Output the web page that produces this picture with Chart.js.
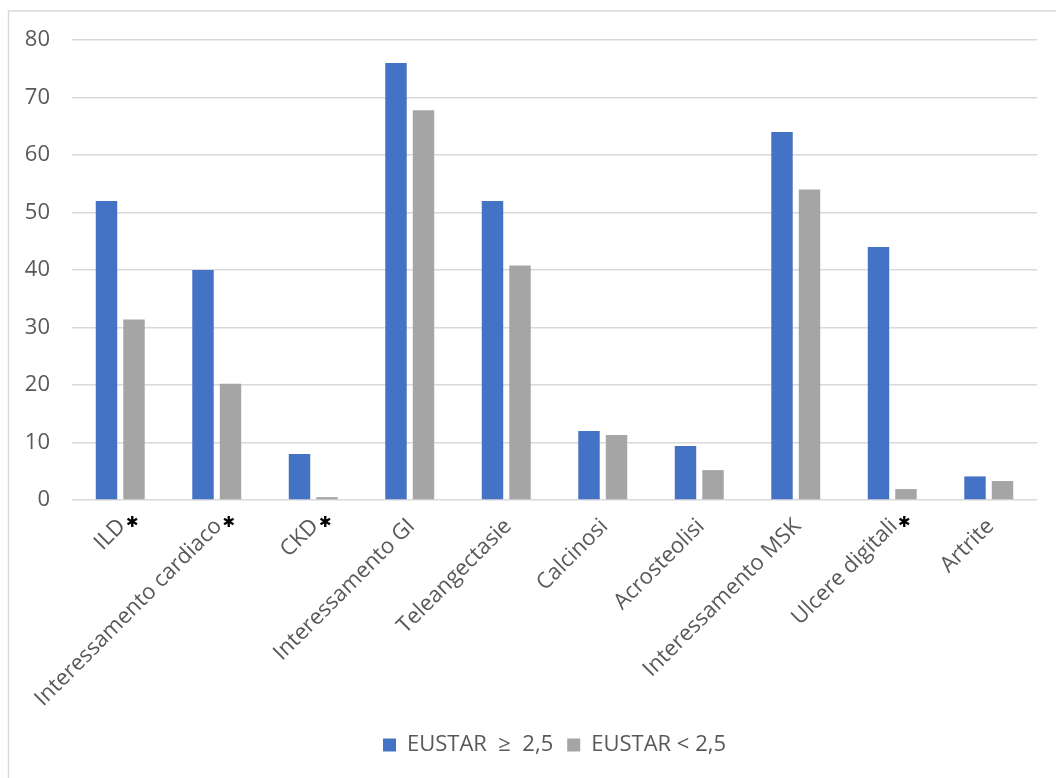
<!DOCTYPE html>
<html>
<head>
<meta charset="utf-8">
<script src="https://cdn.jsdelivr.net/npm/chart.js@4.4.1/dist/chart.umd.min.js"></script>
<style>
  html, body { margin: 0; padding: 0; background: #ffffff; }
  #wrap { width: 1056px; height: 778px; position: relative; }
</style>
</head>
<body>
<div id="wrap"><canvas id="c" width="1056" height="778"></canvas></div>
<script>
// Categories (clinical features)
const categories = [
  'ILD', 'Interessamento cardiaco', 'CKD', 'Interessamento GI', 'Teleangectasie',
  'Calcinosi', 'Acrosteolisi', 'Interessamento MSK', 'Ulcere digitali', 'Artrite'
];
// Categories marked with a significance asterisk
const significant = [true, true, true, false, false, false, false, false, true, false];

// Series values (%)
const seriesHigh = [52, 40, 8, 76, 52, 12, 9.4, 64, 44, 4.1];
const seriesLow = [31.4, 20.2, 0.5, 67.8, 40.8, 11.3, 5.2, 54, 1.9, 3.3];

const seriesNames = ['EUSTAR  \u2265  2,5', 'EUSTAR < 2,5'];
const yTicks = [0, 10, 20, 30, 40, 50, 60, 70, 80];

const FONT = '"Open Sans", "Segoe UI", sans-serif';
const TEXT = '#595959';
const LABEL_SIZE = 22;

// Thin frame on the top and left edges of the chart
const framePlugin = {
  id: 'frame',
  beforeDraw(chart) {
    const ctx = chart.ctx;
    ctx.save();
    ctx.strokeStyle = '#d9d9d9';
    ctx.lineWidth = 1.5;
    ctx.beginPath();
    ctx.moveTo(8.5, chart.height);
    ctx.lineTo(8.5, 11);
    ctx.lineTo(chart.width, 11);
    ctx.stroke();
    ctx.restore();
  }
};

// Rotated category labels, with a black asterisk for the significant ones
const catLabelPlugin = {
  id: 'catLabels',
  afterDraw(chart) {
    const x = chart.scales.x;
    const bottom = chart.chartArea.bottom;
    const ctx = chart.ctx;
    ctx.save();
    categories.forEach((label, i) => {
      const px = x.getPixelForTick(i);
      ctx.save();
      ctx.translate(px - 6, bottom + 15);
      ctx.rotate(-Math.PI / 4);
      ctx.textBaseline = 'top';
      ctx.textAlign = 'right';
      ctx.font = LABEL_SIZE + 'px ' + FONT;
      ctx.fillStyle = TEXT;
      ctx.fillText(label, 0, 0);
      ctx.restore();
      if (significant[i]) {
        ctx.save();
        ctx.font = '15px "DejaVu Sans", sans-serif';
        ctx.fillStyle = '#000000';
        ctx.textAlign = 'center';
        ctx.textBaseline = 'middle';
        ctx.fillText('\u2731', px + 12, bottom + 23);
        ctx.restore();
      }
    });
    ctx.restore();
  }
};

new Chart(document.getElementById('c'), {
  type: 'bar',
  data: {
    labels: categories,
    datasets: [
      { label: seriesNames[0], data: seriesHigh, backgroundColor: '#4472C4',
        barPercentage: 0.78, categoryPercentage: 0.57 },
      { label: seriesNames[1], data: seriesLow, backgroundColor: '#A5A5A5',
        barPercentage: 0.78, categoryPercentage: 0.57 }
    ]
  },
  options: {
    responsive: false,
    animation: false,
    devicePixelRatio: 1,
    layout: { padding: { left: 0, right: 19, top: 40, bottom: 12 } },
    plugins: {
      tooltip: { enabled: false },
      legend: {
        position: 'bottom',
        fullSize: false,
        labels: {
          font: { family: FONT, size: LABEL_SIZE },
          color: TEXT,
          boxWidth: 13,
          boxHeight: 13,
          padding: 14
        }
      }
    },
    scales: {
      x: {
        grid: { display: false },
        border: { display: false },
        ticks: { display: false },
        afterFit(scale) { scale.height = 220; }
      },
      y: {
        min: 0,
        max: 80,
        afterBuildTicks(scale) { scale.ticks = yTicks.map(v => ({ value: v })); },
        grid: { color: '#d9d9d9', lineWidth: 1.5, drawTicks: false },
        border: { display: false },
        ticks: {
          font: { family: FONT, size: LABEL_SIZE },
          color: TEXT,
          padding: 22
        },
        afterFit(scale) { scale.width = 72; }
      }
    }
  },
  plugins: [framePlugin, catLabelPlugin]
});
</script>
</body>
</html>
